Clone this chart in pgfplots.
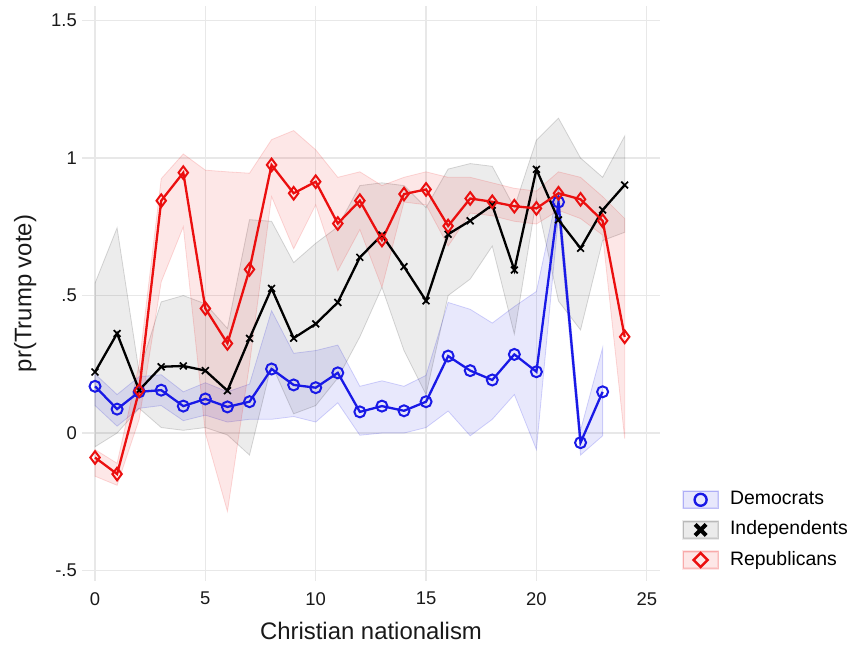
\documentclass[border=0pt]{standalone}
\usepackage{fontspec}
\setmainfont{Liberation Sans}
\usepackage{pgfplots}
\pgfplotsset{compat=1.18}
\usepackage{pgfplotstable}

\definecolor{dblue}{RGB}{25,25,230}
\definecolor{rred}{RGB}{235,15,15}

\pgfplotstableread{
x m
0 0.170
1 0.087
2 0.150
3 0.156
4 0.098
5 0.124
6 0.095
7 0.114
8 0.233
9 0.175
10 0.165
11 0.219
12 0.077
13 0.098
14 0.081
15 0.114
16 0.280
17 0.227
18 0.193
19 0.286
20 0.223
21 0.840
22 -0.035
23 0.150
}\dem

\pgfplotstableread{
x m
0 0.222
1 0.362
2 0.156
3 0.241
4 0.244
5 0.227
6 0.154
7 0.344
8 0.526
9 0.345
10 0.397
11 0.475
12 0.639
13 0.720
14 0.605
15 0.481
16 0.723
17 0.772
18 0.829
19 0.593
20 0.959
21 0.775
22 0.672
23 0.811
24 0.902
}\ind

\pgfplotstableread{
x m
0 -0.089
1 -0.149
2 0.154
3 0.845
4 0.947
5 0.453
6 0.326
7 0.595
8 0.975
9 0.872
10 0.914
11 0.762
12 0.845
13 0.702
14 0.869
15 0.886
16 0.753
17 0.853
18 0.841
19 0.825
20 0.817
21 0.872
22 0.850
23 0.772
24 0.350
}\rep

\begin{document}
\begin{tikzpicture}
\path (0,0) rectangle (852bp,645bp);
\begin{axis}[
  at={(82bp,64bp)}, anchor=south west,
  scale only axis, width=578bp, height=575bp,
  xmin=-0.59, xmax=25.6, ymin=-0.538, ymax=1.553,
  xtick={0,5,10,15,20,25}, xticklabels={0,5,10,15,20,25},
  ytick={-0.5,0,0.5,1,1.5}, yticklabels={-.5,0,.5,1,1.5},
  axis line style={draw=none}, major tick length=0pt,
  grid=major, grid style={color=black!9, line width=1.2bp},
  tick label style={font=\fontsize{18.5}{20}\selectfont, text=black!90},
  xticklabel style={anchor=north, inner sep=0pt, yshift=-11bp},
  yticklabel style={anchor=east, inner sep=0pt, xshift=-5bp},
  xlabel={Christian nationalism}, ylabel={pr(Trump vote)},
  label style={font=\fontsize{24}{28}\selectfont, text=black!90},
  xlabel style={at={(axis description cs:0.5,-0.1026)}, anchor=base},
  ylabel style={at={(axis description cs:-0.0874,0.5)}, anchor=base},
  legend style={at={(axis description cs:1.038,0.158)}, anchor=north west,
    draw=none, fill=none, inner sep=0pt, outer sep=0pt, row sep=10.8bp,
    font=\fontsize{19.5}{22}\selectfont,
    nodes={inner sep=0pt, text height=13.7bp, text depth=3.5bp}},
  legend cell align=left,
]
% bands
\addplot[fill=dblue, fill opacity=0.1, draw=dblue, draw opacity=0.18, line width=0.8bp, forget plot] coordinates {
(0,0.215)(1,0.140)(2,0.205)(3,0.212)(4,0.150)(5,0.183)(6,0.150)(7,0.178)(8,0.445)(9,0.290)(10,0.300)(11,0.320)(12,0.170)(13,0.190)(14,0.170)(15,0.210)(16,0.475)(17,0.450)(18,0.400)(19,0.460)(20,0.515)(21,0.890)(22,0.010)(23,0.310)
(23,-0.010)(22,-0.080)(21,0.790)(20,-0.060)(19,0.140)(18,0.050)(17,-0.010)(16,0.080)(15,0.020)(14,0.000)(13,0.000)(12,-0.008)(11,0.110)(10,0.040)(9,0.060)(8,0.050)(7,0.050)(6,0.040)(5,0.065)(4,0.045)(3,0.100)(2,0.090)(1,0.025)(0,0.100)
} -- cycle;
\addplot[fill=black, fill opacity=0.075, draw=black, draw opacity=0.15, line width=0.8bp, forget plot] coordinates {
(0,0.545)(1,0.746)(2,0.220)(3,0.477)(4,0.500)(5,0.470)(6,0.380)(7,0.776)(8,0.770)(9,0.620)(10,0.690)(11,0.750)(12,0.900)(13,0.910)(14,0.900)(15,0.820)(16,0.960)(17,0.980)(18,0.970)(19,0.820)(20,1.065)(21,1.145)(22,1.000)(23,0.930)(24,1.080)
(24,0.730)(23,0.700)(22,0.375)(21,0.480)(20,0.850)(19,0.360)(18,0.680)(17,0.560)(16,0.500)(15,0.140)(14,0.300)(13,0.530)(12,0.350)(11,0.200)(10,0.100)(9,0.070)(8,0.250)(7,-0.080)(6,-0.007)(5,0.020)(4,0.010)(3,0.020)(2,0.090)(1,0.000)(0,-0.050)
} -- cycle;
\addplot[fill=rred, fill opacity=0.1, draw=rred, draw opacity=0.15, line width=0.8bp, forget plot] coordinates {
(0,-0.060)(1,-0.110)(2,0.250)(3,0.925)(4,1.015)(5,0.956)(6,0.950)(7,0.945)(8,1.067)(9,1.100)(10,1.030)(11,0.930)(12,0.950)(13,0.900)(14,0.930)(15,0.950)(16,0.930)(17,0.930)(18,0.910)(19,0.890)(20,0.880)(21,0.950)(22,0.930)(23,0.860)(24,0.780)
(24,-0.020)(23,0.720)(22,0.780)(21,0.810)(20,0.760)(19,0.770)(18,0.790)(17,0.800)(16,0.680)(15,0.830)(14,0.840)(13,0.530)(12,0.740)(11,0.590)(10,0.830)(9,0.670)(8,0.860)(7,0.250)(6,-0.285)(5,0.000)(4,0.750)(3,0.550)(2,0.050)(1,-0.190)(0,-0.157)
} -- cycle;
% lines
\addplot[dblue, line width=2.3bp, mark=o, mark size=5.5bp, mark options={line width=2bp},
  legend image code/.code={
  \fill[dblue, opacity=0.1] (0bp,-8.5bp) rectangle (35bp,8.5bp);
  \draw[dblue, opacity=0.2, line width=0.6bp] (0bp,-8.5bp) rectangle (35bp,8.5bp);
  \draw[dblue, line width=2.4bp] (17.5bp,0bp) circle (6bp);}] table[x=x,y=m]{\dem};
\addlegendentry{\ \ Democrats}
\addplot[black, line width=2.3bp, mark=x, mark size=4.8bp, mark options={line width=1.7bp},
  legend image code/.code={
  \fill[black, opacity=0.08] (0bp,-8.5bp) rectangle (35bp,8.5bp);
  \draw[black, opacity=0.15, line width=0.6bp] (0bp,-8.5bp) rectangle (35bp,8.5bp);
  \draw[black, line width=4bp] (12bp,-5.5bp) -- (23bp,5.5bp) (12bp,5.5bp) -- (23bp,-5.5bp);}] table[x=x,y=m]{\ind};
\addlegendentry{\ \ Independents}
\addplot[rred, line width=2.3bp, mark=diamond, mark size=6.3bp, mark options={line width=2bp},
  legend image code/.code={
  \fill[rred, opacity=0.1] (0bp,-8.5bp) rectangle (35bp,8.5bp);
  \draw[rred, opacity=0.2, line width=0.6bp] (0bp,-8.5bp) rectangle (35bp,8.5bp);
  \draw[rred, line width=2.6bp] (17.5bp,-7bp) -- (24.5bp,0bp) -- (17.5bp,7bp) -- (10.5bp,0bp) -- cycle;}] table[x=x,y=m]{\rep};
\addlegendentry{\ \ Republicans}
\end{axis}
\end{tikzpicture}
\end{document}
